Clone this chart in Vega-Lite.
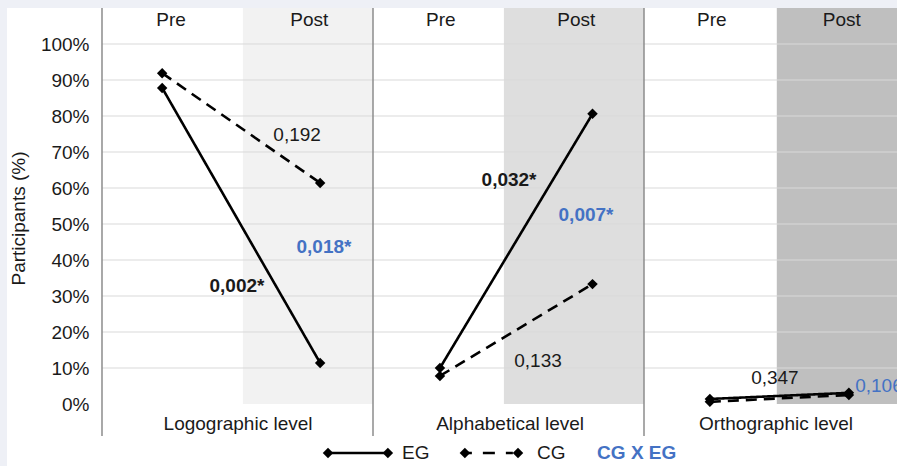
{
  "$schema": "https://vega.github.io/schema/vega-lite/v6.json",
  "width": 890,
  "height": 458,
  "autosize": {"type": "none"},
  "padding": {"left": 7, "top": 8, "right": 0, "bottom": 0},
  "background": "#eef0f6",
  "config": {
    "view": {"fill": "#ffffff", "stroke": null},
    "font": "Liberation Sans",
    "text": {"font": "Liberation Sans", "fontSize": 19}
  },
  "datasets": {
    "points": [
      {"level": "Logographic level", "group": "EG", "phase": "Pre", "x": 0.222, "pct": 87.8},
      {"level": "Logographic level", "group": "EG", "phase": "Post", "x": 0.805, "pct": 11.4},
      {"level": "Logographic level", "group": "CG", "phase": "Pre", "x": 0.222, "pct": 91.9},
      {"level": "Logographic level", "group": "CG", "phase": "Post", "x": 0.805, "pct": 61.4},
      {"level": "Alphabetical level", "group": "EG", "phase": "Pre", "x": 1.247, "pct": 10.0},
      {"level": "Alphabetical level", "group": "EG", "phase": "Post", "x": 1.81, "pct": 80.6},
      {"level": "Alphabetical level", "group": "CG", "phase": "Pre", "x": 1.247, "pct": 7.8},
      {"level": "Alphabetical level", "group": "CG", "phase": "Post", "x": 1.81, "pct": 33.3},
      {"level": "Orthographic level", "group": "EG", "phase": "Pre", "x": 2.243, "pct": 1.4},
      {"level": "Orthographic level", "group": "EG", "phase": "Post", "x": 2.756, "pct": 3.1},
      {"level": "Orthographic level", "group": "CG", "phase": "Pre", "x": 2.243, "pct": 0.6},
      {"level": "Orthographic level", "group": "CG", "phase": "Post", "x": 2.756, "pct": 2.5}
    ],
    "panels": [
      {"level": "Logographic level", "left": 0, "postStart": 0.52, "right": 1, "labelX": 0.502},
      {"level": "Alphabetical level", "left": 1, "postStart": 1.483, "right": 2, "labelX": 1.506},
      {"level": "Orthographic level", "left": 2, "postStart": 2.49, "right": 3, "labelX": 2.487}
    ],
    "phases": [
      {"phase": "Pre", "x": 0.255},
      {"phase": "Post", "x": 0.765},
      {"phase": "Pre", "x": 1.25},
      {"phase": "Post", "x": 1.75},
      {"phase": "Pre", "x": 2.25},
      {"phase": "Post", "x": 2.73}
    ],
    "grid": [
      {"pct": 10}, {"pct": 20}, {"pct": 30}, {"pct": 40}, {"pct": 50},
      {"pct": 60}, {"pct": 70}, {"pct": 80}, {"pct": 90}, {"pct": 100}
    ],
    "notes": [
      {"label": "0,192", "x": 0.72, "y": 74.7, "test": "CG", "sig": false},
      {"label": "0,002*", "x": 0.498, "y": 32.8, "test": "EG", "sig": true},
      {"label": "0,018*", "x": 0.819, "y": 43.5, "test": "CG X EG", "sig": true},
      {"label": "0,032*", "x": 1.502, "y": 62.2, "test": "EG", "sig": true},
      {"label": "0,007*", "x": 1.786, "y": 52.5, "test": "CG X EG", "sig": true},
      {"label": "0,133", "x": 1.609, "y": 11.9, "test": "CG", "sig": false},
      {"label": "0,347", "x": 2.483, "y": 7.2, "test": "EG", "sig": false},
      {"label": "0,106", "x": 2.867, "y": 5.0, "test": "CG X EG", "sig": false}
    ],
    "legend": [
      {"group": "EG", "from": 0.834, "to": 1.055, "labelX": 1.107},
      {"group": "CG", "from": 1.339, "to": 1.535, "labelX": 1.605},
      {"group": "CG X EG", "labelX": 1.827}
    ]
  },
  "layer": [
    {
      "data": {"name": "panels"},
      "mark": {"type": "rect", "clip": true},
      "encoding": {
        "x": {"field": "postStart", "type": "quantitative", "scale": {"domain": [-0.35055, 2.93357], "nice": false, "zero": false}, "axis": null},
        "x2": {"field": "right"},
        "y": {"datum": 110, "type": "quantitative", "scale": {"domain": [-17.22, 110], "nice": false, "zero": false}, "axis": {
          "values": [0, 10, 20, 30, 40, 50, 60, 70, 80, 90, 100],
          "labelExpr": "datum.value + '%'",
          "domain": false, "ticks": false, "grid": false,
          "labelFont": "Liberation Sans", "labelFontSize": 19, "labelColor": "#1a1a1a", "labelPadding": 13,
          "offset": -95,
          "title": "Participants (%)", "titleFont": "Liberation Sans", "titleFontSize": 19, "titleFontWeight": "normal", "titleColor": "#1a1a1a",
          "titleX": -84, "titleY": 210, "titleAngle": -90, "titleAlign": "center", "titleBaseline": "middle",
          "zindex": 1
        }},
        "y2": {"datum": 0},
        "fill": {"field": "level", "type": "nominal", "scale": {"domain": ["Logographic level", "Alphabetical level", "Orthographic level"], "range": ["#f2f2f2", "#dedede", "#bfbfbf"]}, "legend": null}
      }
    },
    {
      "data": {"name": "grid"},
      "mark": {"type": "rule", "color": "#d9d9d9", "strokeWidth": 1, "clip": true},
      "encoding": {
        "y": {"field": "pct", "type": "quantitative"},
        "x": {"datum": 0, "type": "quantitative"},
        "x2": {"datum": 3}
      }
    },
    {
      "data": {"name": "panels"},
      "mark": {"type": "rule", "color": "#8c8c8c", "strokeWidth": 1.5},
      "encoding": {
        "x": {"field": "left", "type": "quantitative"},
        "y": {"datum": 110, "type": "quantitative"},
        "y2": {"datum": -8.9}
      }
    },
    {
      "mark": {"type": "rule", "color": "#3a3a3a", "strokeWidth": 1.5, "clip": true},
      "encoding": {
        "y": {"datum": 0, "type": "quantitative"},
        "x": {"datum": 0, "type": "quantitative"},
        "x2": {"datum": 3}
      }
    },
    {
      "data": {"name": "points"},
      "mark": {"type": "line", "color": "#000000", "strokeWidth": 2.6},
      "encoding": {
        "x": {"field": "x", "type": "quantitative"},
        "y": {"field": "pct", "type": "quantitative"},
        "detail": {"field": "level", "type": "nominal"},
        "strokeDash": {"field": "group", "type": "nominal", "scale": {"domain": ["EG", "CG"], "range": [[1, 0], [11, 7]]}, "legend": null}
      }
    },
    {
      "data": {"name": "points"},
      "mark": {"type": "point", "shape": "diamond", "filled": true, "size": 110, "color": "#000000", "opacity": 1},
      "encoding": {
        "x": {"field": "x", "type": "quantitative"},
        "y": {"field": "pct", "type": "quantitative"}
      }
    },
    {
      "data": {"name": "phases"},
      "mark": {"type": "text", "color": "#1a1a1a", "align": "center", "baseline": "middle"},
      "encoding": {
        "x": {"field": "x", "type": "quantitative"},
        "y": {"datum": 106.7, "type": "quantitative"},
        "text": {"field": "phase"}
      }
    },
    {
      "data": {"name": "panels"},
      "mark": {"type": "text", "color": "#1a1a1a", "align": "center", "baseline": "middle"},
      "encoding": {
        "x": {"field": "labelX", "type": "quantitative"},
        "y": {"datum": -5.6, "type": "quantitative"},
        "text": {"field": "level"}
      }
    },
    {
      "data": {"name": "notes"},
      "transform": [{"filter": "datum.sig"}],
      "mark": {"type": "text", "align": "center", "baseline": "middle", "fontWeight": "bold"},
      "encoding": {
        "x": {"field": "x", "type": "quantitative"},
        "y": {"field": "y", "type": "quantitative"},
        "text": {"field": "label"},
        "color": {"field": "test", "type": "nominal", "scale": {"domain": ["EG", "CG", "CG X EG"], "range": ["#1a1a1a", "#1a1a1a", "#4472c4"]}, "legend": null}
      }
    },
    {
      "data": {"name": "notes"},
      "transform": [{"filter": "!datum.sig"}],
      "mark": {"type": "text", "align": "center", "baseline": "middle", "clip": true},
      "encoding": {
        "x": {"field": "x", "type": "quantitative"},
        "y": {"field": "y", "type": "quantitative"},
        "text": {"field": "label"},
        "color": {"field": "test", "type": "nominal", "legend": null}
      }
    },
    {
      "data": {"name": "legend"},
      "transform": [{"filter": "datum.group === 'EG'"}],
      "mark": {"type": "rule", "color": "#000000", "strokeWidth": 2.6},
      "encoding": {
        "x": {"field": "from", "type": "quantitative"},
        "x2": {"field": "to"},
        "y": {"datum": -13.6, "type": "quantitative"}
      }
    },
    {
      "data": {"name": "legend"},
      "transform": [{"filter": "datum.group === 'CG'"}],
      "mark": {"type": "rule", "color": "#000000", "strokeWidth": 2.6, "strokeDash": [7, 11, 12, 11]},
      "encoding": {
        "x": {"field": "from", "type": "quantitative"},
        "x2": {"field": "to"},
        "y": {"datum": -13.6, "type": "quantitative"}
      }
    },
    {
      "data": {"name": "legend"},
      "transform": [{"filter": "datum.group !== 'CG X EG'"}, {"fold": ["from", "to"], "as": ["end", "pos"]}],
      "mark": {"type": "point", "shape": "diamond", "filled": true, "size": 110, "color": "#000000", "opacity": 1},
      "encoding": {
        "x": {"field": "pos", "type": "quantitative"},
        "y": {"datum": -13.6, "type": "quantitative"}
      }
    },
    {
      "data": {"name": "legend"},
      "transform": [{"filter": "datum.group !== 'CG X EG'"}],
      "mark": {"type": "text", "align": "left", "baseline": "middle"},
      "encoding": {
        "x": {"field": "labelX", "type": "quantitative"},
        "y": {"datum": -13.6, "type": "quantitative"},
        "text": {"field": "group"},
        "color": {"field": "group", "type": "nominal", "legend": null}
      }
    },
    {
      "data": {"name": "legend"},
      "transform": [{"filter": "datum.group === 'CG X EG'"}],
      "mark": {"type": "text", "align": "left", "baseline": "middle", "fontWeight": "bold"},
      "encoding": {
        "x": {"field": "labelX", "type": "quantitative"},
        "y": {"datum": -13.6, "type": "quantitative"},
        "text": {"field": "group"},
        "color": {"field": "group", "type": "nominal", "legend": null}
      }
    }
  ]
}
